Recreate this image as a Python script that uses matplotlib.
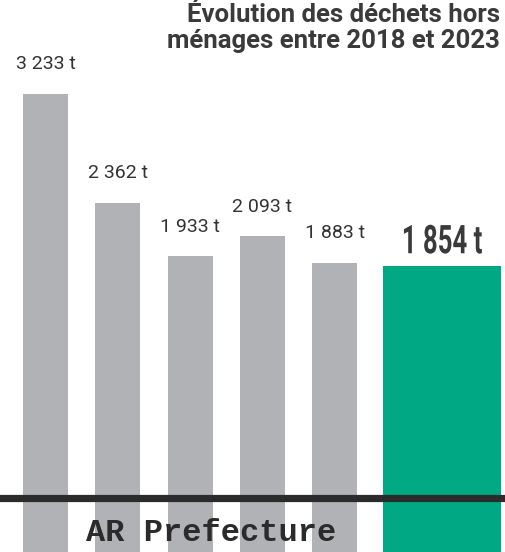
import matplotlib
matplotlib.use("Agg")
import matplotlib.pyplot as plt
from matplotlib.patheffects import AbstractPathEffect
from matplotlib.transforms import Affine2D

# Tonnages of non-household waste per year
years = ["2018", "2019", "2020", "2021", "2022", "2023"]
tonnes = [3233, 2362, 1933, 2093, 1883, 1854]
labels = ["3 233 t", "2 362 t", "1 933 t", "2 093 t", "1 883 t", "1 854 t"]
title_lines = ["Évolution des déchets hors", "ménages entre 2018 et 2023"]
watermark = "AR Prefecture"

GREY = "#b1b2b6"
GREEN = "#00a984"
DARK = "#333333"


class Condensed(AbstractPathEffect):
    """Squeeze glyph outlines horizontally around their centre."""

    def __init__(self, sx):
        super().__init__()
        self.sx = sx

    def draw_path(self, renderer, gc, tpath, affine, rgbFace=None):
        ext = tpath.get_extents()
        cx = 0.5 * (ext.x0 + ext.x1)
        squeeze = Affine2D().translate(-cx, 0).scale(self.sx, 1).translate(cx, 0)
        renderer.draw_path(gc, tpath, squeeze + affine, rgbFace)


fig = plt.figure(figsize=(5.05, 5.52), dpi=100)
ax = fig.add_axes([0, 0, 1, 1])
ax.set_axis_off()

ymin, ymax = -432, 3984
ax.set_ylim(ymin, ymax)
ax.set_xlim(-0.629, 6.355)

xpos = [0, 1, 2, 3, 4, 5.48]
widths = [0.622] * 5 + [1.632]
colors = [GREY] * 5 + [GREEN]

# bars run past the baseline down to the bottom edge
for x, w, v, c in zip(xpos, widths, tonnes, colors):
    ax.bar(x, v - ymin, bottom=ymin, width=w, color=c, zorder=1)

# value labels
for i, (x, v, lab) in enumerate(zip(xpos, tonnes, labels)):
    if i == len(tonnes) - 1:
        ax.text(x, v + 104, lab, ha="center", va="baseline",
                fontsize=28.5, fontweight="bold", color="#3a3a3a",
                family="Roboto", zorder=3,
                path_effects=[Condensed(0.65)])
    else:
        ax.text(x, v + 165, lab, ha="center", va="bottom",
                fontsize=14, color=DARK, family="Roboto", zorder=3)

# baseline
ax.axhline(0, color="#2b2b2b", lw=5.2, zorder=2)

# title
fig.text(0.99, 1 - 22 / 552, title_lines[0], ha="right", va="baseline",
         fontsize=18.5, fontweight="bold", color="#3a3a3a", family="Roboto")
fig.text(0.99, 1 - 48 / 552, title_lines[1], ha="right", va="baseline",
         fontsize=18.5, fontweight="bold", color="#3a3a3a", family="Roboto")

# stamp
fig.text(0.418, 0.034, watermark, ha="center", va="center",
         fontsize=23, fontweight="bold", color="#2b2b2b",
         family="Liberation Mono", zorder=5)

fig.savefig("out.png", dpi=100)
